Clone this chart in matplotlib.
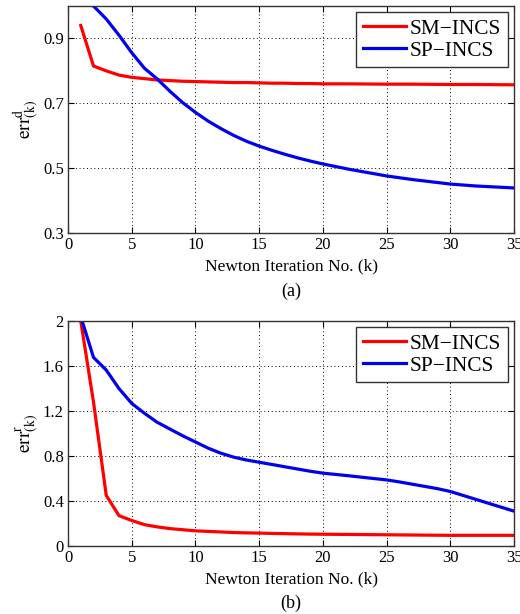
import matplotlib
matplotlib.use("Agg")
from matplotlib import pyplot as plt

plt.rcParams['font.family'] = ['Liberation Serif', 'DejaVu Serif']
plt.rcParams['mathtext.fontset'] = 'stix'

# (a) err^d per Newton iteration
k_a = [1, 2, 3, 4, 5, 6, 7, 8, 9, 10, 11, 12, 13, 14, 15, 16, 17, 18, 19,
       20, 22, 25, 27, 30, 32, 35]
sm_a = [0.94, 0.815, 0.80, 0.787, 0.780, 0.776, 0.772, 0.770, 0.768, 0.767,
        0.766, 0.765, 0.764, 0.764, 0.763, 0.762, 0.762, 0.761, 0.761,
        0.760, 0.760, 0.759, 0.759, 0.758, 0.758, 0.757]
sp_a = [1.01, 1.0, 0.96, 0.91, 0.856, 0.808, 0.775, 0.737, 0.702, 0.672,
        0.645, 0.622, 0.601, 0.583, 0.568, 0.555, 0.543, 0.532, 0.522,
        0.513, 0.497, 0.476, 0.465, 0.451, 0.445, 0.439]

# (b) err^r per Newton iteration
k_b = [1, 2, 3, 4, 5, 6, 7, 8, 9, 10, 11, 12, 13, 14, 15, 16, 17, 18, 19,
       20, 22, 24, 25, 26, 27, 28, 29, 30, 31, 32, 33, 34, 35]
sm_b = [2.0, 1.28, 0.45, 0.27, 0.227, 0.19, 0.17, 0.155, 0.145, 0.135,
        0.13, 0.125, 0.12, 0.117, 0.115, 0.112, 0.11, 0.108, 0.106,
        0.105, 0.103, 0.101, 0.10, 0.099, 0.098, 0.097, 0.096, 0.095,
        0.095, 0.095, 0.095, 0.095, 0.095]
sp_b = [2.04, 1.677, 1.564, 1.40, 1.268, 1.18, 1.10, 1.04, 0.98, 0.925,
        0.87, 0.825, 0.79, 0.765, 0.745, 0.725, 0.705, 0.685, 0.665,
        0.648, 0.625, 0.60, 0.588, 0.57, 0.55, 0.53, 0.51, 0.485,
        0.45, 0.415, 0.38, 0.345, 0.31]

fig = plt.figure(figsize=(5.2, 6.14), dpi=100)
ax1 = fig.add_axes([0.1308, 0.6205, 0.8577, 0.3697])
ax2 = fig.add_axes([0.1308, 0.1107, 0.8577, 0.3664])


def style(ax, ylim, yticks, ylabel, caption):
    ax.set_xlim(0, 35)
    ax.set_ylim(*ylim)
    ax.set_xticks(range(0, 36, 5))
    ax.set_yticks(yticks)
    ax.set_yticklabels([f'{v:g}' for v in yticks])
    ax.grid(True, linestyle=(0, (1, 2.8)), color='black', linewidth=0.7)
    ax.tick_params(direction='in', top=True, right=True, labelsize=12,
                   length=4, pad=3)
    for s in ax.spines.values():
        s.set_color('#333333')
        s.set_linewidth(1.0)
    ax.set_xlabel('Newton Iteration No. (k)', fontsize=12.5, labelpad=4)
    ax.set_ylabel(ylabel, fontsize=14, labelpad=1)
    ax.text(0.5, -0.255, caption, transform=ax.transAxes, ha='center',
            va='center', fontsize=13)
    leg = ax.legend(loc='upper right', fontsize=15.4, handlelength=2.0,
                    borderaxespad=0.3, fancybox=False, edgecolor='#333333',
                    framealpha=1, borderpad=0.3, labelspacing=0.1,
                    handletextpad=0.2)
    leg.get_frame().set_linewidth(1.0)


ax1.plot(k_a, sm_a, color='#ff0000', linewidth=2.3, label='SM\u2212INCS')
ax1.plot(k_a, sp_a, color='#0000ee', linewidth=2.3, label='SP\u2212INCS')
style(ax1, (0.3, 1.0), [0.3, 0.5, 0.7, 0.9],
      r'$\mathrm{err}^{\mathrm{d}}_{(\mathrm{k})}$', '(a)')

ax2.plot(k_b, sm_b, color='#ff0000', linewidth=2.3, label='SM\u2212INCS')
ax2.plot(k_b, sp_b, color='#0000ee', linewidth=2.3, label='SP\u2212INCS')
style(ax2, (0, 2), [0, 0.4, 0.8, 1.2, 1.6, 2],
      r'$\mathrm{err}^{\mathrm{r}}_{(\mathrm{k})}$', '(b)')

fig.savefig('out.png', dpi=100)
